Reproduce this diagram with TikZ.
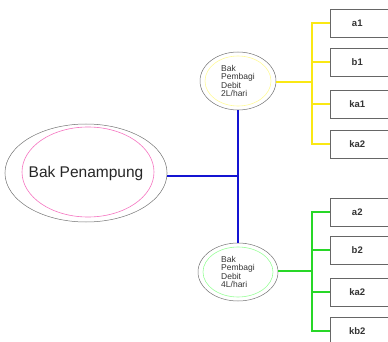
\documentclass[tikz,border=0pt]{standalone}
\usepackage{fontspec}
\setmainfont{Liberation Sans}
\usetikzlibrary{shapes.geometric}
\definecolor{lineblue}{RGB}{20,20,210}
\definecolor{lineyellow}{RGB}{250,232,20}
\definecolor{linegreen}{RGB}{40,215,40}
\tikzset{
  bak/.style={draw=black!55, line width=0.5pt, ellipse, inner sep=0pt},
  kotak/.style={draw=black!60, line width=0.5pt, minimum width=70pt, minimum height=28pt, anchor=west},
  lbl/.style={xshift=-8pt, font=\fontsize{9.5}{10}\selectfont\bfseries, text=black!80},
  pipa/.style={line width=1.8pt}
}
\begin{document}
\begin{tikzpicture}[x=1pt,y=-1pt]
\useasboundingbox (0,0) rectangle (388,342);
% bak utama dan bak pembagi
\node[bak, minimum width=146pt, minimum height=98pt, font=\fontsize{15.5}{16}\selectfont, text=black!85] (utama) at (86,173) {Bak Penampung};
\draw[magenta!55, line width=0.6pt] (88,172) ellipse (66 and 45);
\node[bak, minimum width=76pt, minimum height=58pt, align=left, font=\fontsize{8.5}{7.8}\selectfont, text=black!80] (bagi1) at (238,81) {Bak\\Pembagi\\Debit\\2L/hari};
\draw[yellow!40, line width=0.6pt] (bagi1.center) ellipse (33 and 25);
\node[bak, minimum width=80pt, minimum height=58pt, align=left, font=\fontsize{8.5}{7.8}\selectfont, text=black!80] (bagi2) at (238,272) {Bak\\Pembagi\\Debit\\4L/hari};
\draw[green!40, line width=0.6pt] (bagi2.center) ellipse (35 and 25);
% kotak keluaran
\node[kotak, label={[lbl]center:a1}] (a1) at (330,23) {};
\node[kotak, label={[lbl]center:b1}] (b1) at (330,62) {};
\node[kotak, label={[lbl]center:ka1}] (ka1) at (330,104) {};
\node[kotak, label={[lbl]center:ka2}] (ka2) at (330,144) {};
\node[kotak, label={[lbl]center:a2}] (a2) at (330,212) {};
\node[kotak, label={[lbl]center:b2}] (b2) at (330,250) {};
\node[kotak, label={[lbl]center:ka2}] (ka3) at (330,292) {};
\node[kotak, label={[lbl]center:kb2}] (kb2) at (330,331) {};
% pipa
\coordinate (cabang) at (238,176);
\coordinate (kuning) at (312,82);
\coordinate (hijau) at (312,271);
\draw[pipa, lineblue] (utama.east |- cabang) -- (cabang);
\draw[pipa, lineblue] (bagi1.south) -- (bagi2.north);
\draw[pipa, lineyellow] (bagi1.east |- kuning) -- (kuning);
\draw[pipa, lineyellow] (a1.west) -| (kuning) |- (ka2.west);
\draw[pipa, lineyellow] (b1.west) -- (b1.west -| kuning);
\draw[pipa, lineyellow] (ka1.west) -- (ka1.west -| kuning);
\draw[pipa, linegreen] (bagi2.east |- hijau) -- (hijau);
\draw[pipa, linegreen] (a2.west) -| (hijau) |- (kb2.west);
\draw[pipa, linegreen] (b2.west) -- (b2.west -| hijau);
\draw[pipa, linegreen] (ka3.west) -- (ka3.west -| hijau);
\end{tikzpicture}
\end{document}
